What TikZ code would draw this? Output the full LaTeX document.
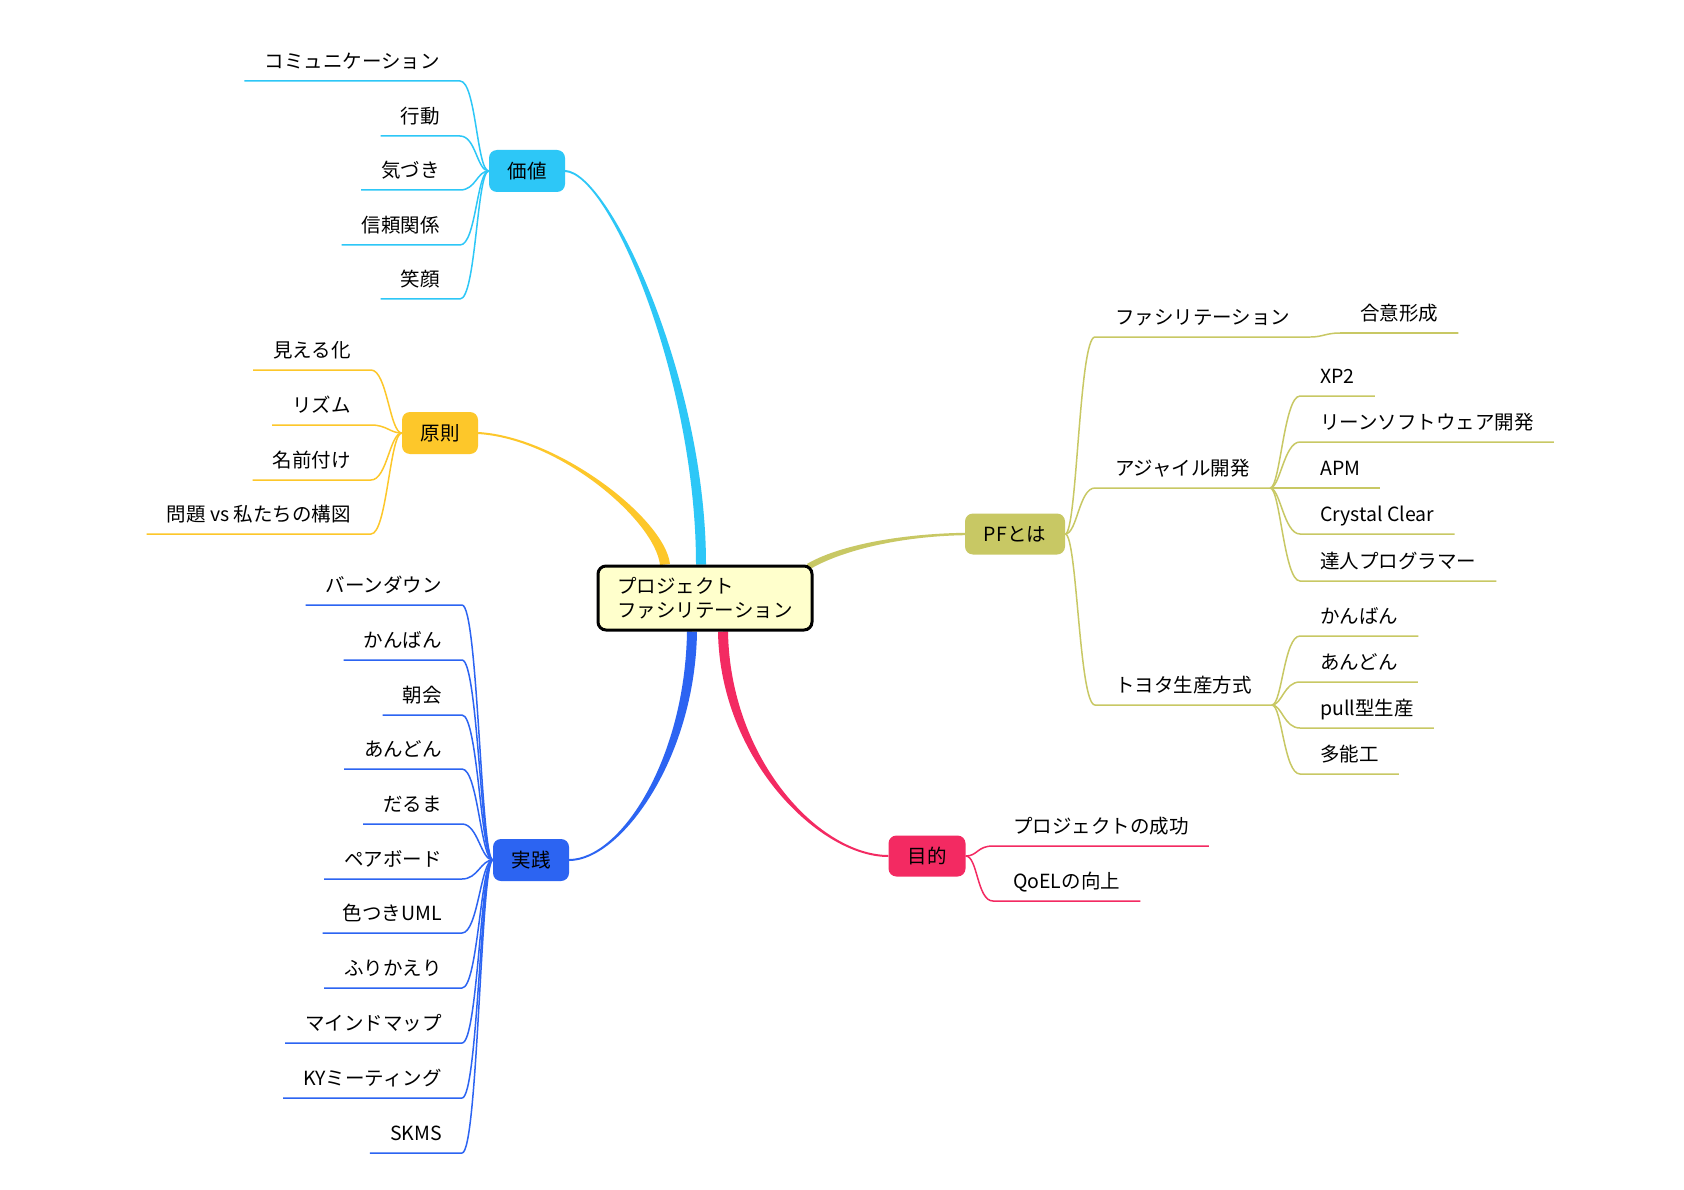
\documentclass[tikz,border=0pt]{standalone}
\usepackage{fontspec}
\setmainfont{Noto Sans CJK JP}
\usetikzlibrary{calc,backgrounds}
\definecolor{cyanC}{RGB}{45,199,247}
\definecolor{yelC}{RGB}{253,199,42}
\definecolor{bluC}{RGB}{44,100,242}
\definecolor{pinC}{RGB}{243,42,98}
\definecolor{oliC}{RGB}{200,200,100}
\definecolor{ctrFill}{RGB}{255,255,204}
\newcommand\jpsize{\fontsize{19.5}{24}\selectfont}
\newcommand\taperline[7]{%
  \fill[#1] ($(#2)!#6!90:(#3)$) .. controls ($(#3)!#6!-90:(#2)$) and ($(#4)!#7!90:(#5)$) .. ($(#5)!#7!-90:(#4)$)
    -- ($(#5)!#7!90:(#4)$) .. controls ($(#4)!#7!-90:(#5)$) and ($(#3)!#6!90:(#2)$) .. ($(#2)!#6!-90:(#3)$) -- cycle;}
\begin{document}
\begin{tikzpicture}[x=1pt,y=-1pt,
  leafL/.style={anchor=south east, inner xsep=20pt, inner ysep=0pt, text height=14pt, text depth=12.5pt, font=\jpsize},
  leafR/.style={anchor=south west, inner xsep=20pt, inner ysep=0pt, text height=14pt, text depth=12.5pt, font=\jpsize},
  topic/.style={rounded corners=8pt, minimum height=42pt, minimum width=76pt, inner sep=0pt, font=\jpsize},
  br/.style={line width=1.5pt}]
\useasboundingbox (0,0) rectangle (1684,1190);
% central and main nodes
\node[draw=black, line width=3pt, fill=ctrFill, rounded corners=8pt, minimum width=214pt, minimum height=64pt,
      align=left, inner xsep=18pt, font=\jpsize] (ctr) at (705,598) {プロジェクト\\ファシリテーション};
\node[topic, fill=cyanC] (kachi) at (527,171) {価値};
\node[topic, fill=yelC] (gensoku) at (440,433) {原則};
\node[topic, fill=bluC] (jissen) at (531,860) {実践};
\node[topic, fill=pinC, minimum height=41pt, minimum width=77pt] (mokuteki) at (927,856) {目的};
\node[topic, fill=oliC, minimum height=41pt, minimum width=100pt] (pf) at (1015,534) {PFとは};
% 価値 leaves
\node[leafL] (k1) at (460,81) {コミュニケーション};
\node[leafL] (k2) at (460,136) {行動};
\node[leafL] (k3) at (460,190) {気づき};
\node[leafL] (k4) at (460,245) {信頼関係};
\node[leafL] (k5) at (460,299) {笑顔};
\foreach \n in {k1,k2,k3,k4,k5}
  \draw[br, cyanC] (\n.south west) -- (\n.south east) .. controls +(16,0) and +(-12,0) .. (kachi.west);
% 原則 leaves
\node[leafL] (g1) at (371,370) {見える化};
\node[leafL] (g2) at (371,425) {リズム};
\node[leafL] (g3) at (371,480) {名前付け};
\node[leafL] (g4) at (371,534) {問題 vs 私たちの構図};
\foreach \n in {g1,g2,g3,g4}
  \draw[br, yelC] (\n.south west) -- (\n.south east) .. controls +(16,0) and +(-12,0) .. (gensoku.west);
% 実践 leaves
\node[leafL] (j1) at (462,605) {バーンダウン};
\node[leafL] (j2) at (462,660) {かんばん};
\node[leafL] (j3) at (462,715) {朝会};
\node[leafL] (j4) at (462,769) {あんどん};
\node[leafL] (j5) at (462,824) {だるま};
\node[leafL] (j6) at (462,879) {ペアボード};
\node[leafL] (j7) at (462,933) {色つきUML};
\node[leafL] (j8) at (462,988) {ふりかえり};
\node[leafL] (j9) at (462,1043) {マインドマップ};
\node[leafL] (j10) at (462,1098) {KYミーティング};
\node[leafL] (j11) at (462,1153) {SKMS};
\foreach \n in {j1,j2,j3,j4,j5,j6,j7,j8,j9,j10,j11}
  \draw[br, bluC] (\n.south west) -- (\n.south east) .. controls +(16,0) and +(-12,0) .. (jissen.west);
% 目的 leaves
\node[leafR] (m1) at (993,846) {プロジェクトの成功};
\node[leafR] (m2) at (993,901) {QoELの向上};
\foreach \n in {m1,m2}
  \draw[br, pinC] (mokuteki.east) .. controls +(12,0) and +(-16,0) .. (\n.south west) -- (\n.south east);
% PFとは leaves
\node[leafR] (p1) at (1095,337) {ファシリテーション};
\node[leafR] (p2) at (1095,488) {アジャイル開発};
\node[leafR] (p3) at (1095,705) {トヨタ生産方式};
\foreach \n in {p1,p2,p3}
  \draw[br, oliC] (pf.east) .. controls +(12,0) and +(-16,0) .. (\n.south west) -- (\n.south east);
\node[leafR] (p1a) at (1340,333) {合意形成};
\draw[br, oliC] (p1.south east) .. controls +(12,0) and +(-14,0) .. (p1a.south west) -- (p1a.south east);
\node[leafR] (a1) at (1300,396) {XP2};
\node[leafR] (a2) at (1300,442) {リーンソフトウェア開発};
\node[leafR] (a3) at (1300,488) {APM};
\node[leafR] (a4) at (1300,534) {Crystal Clear};
\node[leafR] (a5) at (1300,581) {達人プログラマー};
\foreach \n in {a1,a2,a3,a4,a5}
  \draw[br, oliC] (p2.south east) .. controls +(10,0) and +(-16,0) .. (\n.south west) -- (\n.south east);
\node[leafR] (t1) at (1300,636) {かんばん};
\node[leafR] (t2) at (1300,682) {あんどん};
\node[leafR] (t3) at (1300,728) {pull型生産};
\node[leafR] (t4) at (1300,774) {多能工};
\foreach \n in {t1,t2,t3,t4}
  \draw[br, oliC] (p3.south east) .. controls +(10,0) and +(-16,0) .. (\n.south west) -- (\n.south east);
% main tapered connectors
\coordinate (sk) at ([xshift=-4pt]ctr.north);
\coordinate (sg) at ([xshift=-40pt]ctr.north);
\coordinate (sj) at ([xshift=-13pt]ctr.south);
\coordinate (sm) at ([xshift=18pt]ctr.south);
\coordinate (sp) at ([xshift=-5pt,yshift=-2pt]ctr.north east);
\begin{pgfonlayer}{background}
\fill[white] (0,0) rectangle (1684,1190);
\taperline{cyanC}{sk}{701,380}{610,173}{kachi.east}{5pt}{1pt}
\taperline{yelC}{sg}{660,520}{560,438}{gensoku.east}{5pt}{1pt}
\taperline{bluC}{sj}{690,760}{620,860}{jissen.east}{5pt}{1pt}
\taperline{pinC}{sm}{725,760}{820,856}{mokuteki.west}{5pt}{1pt}
\taperline{oliC}{sp}{840,548}{900,535}{pf.west}{3pt}{1.2pt}
\end{pgfonlayer}
\end{tikzpicture}
\end{document}
